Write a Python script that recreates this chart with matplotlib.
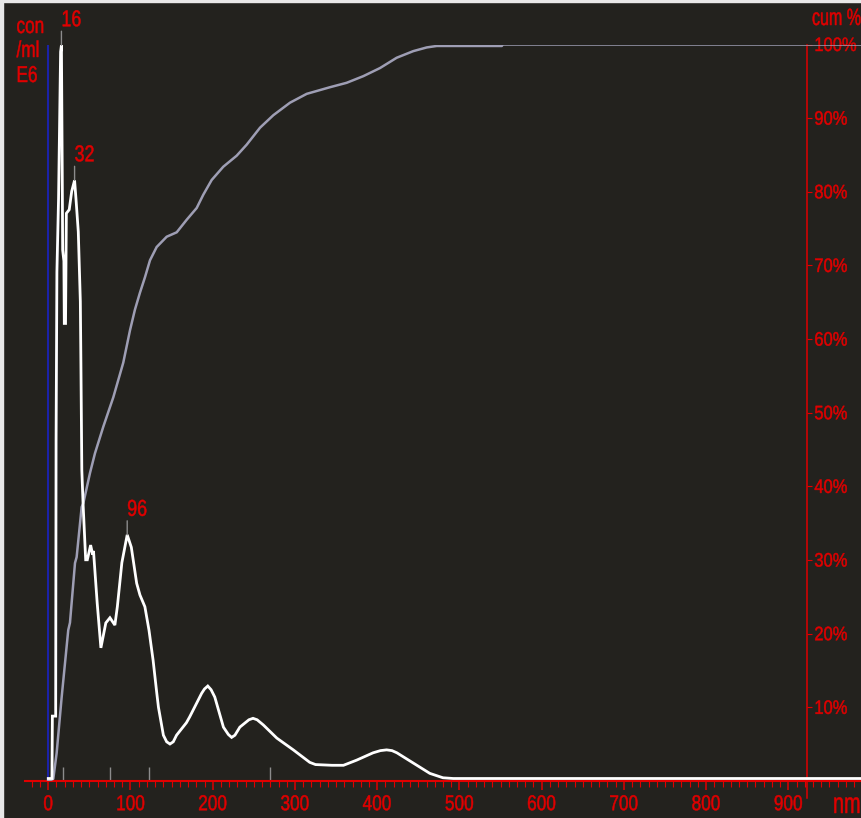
import matplotlib
matplotlib.use("Agg")
import matplotlib.pyplot as plt
import matplotlib.transforms as mtransforms
from matplotlib.transforms import Affine2D
from matplotlib.patheffects import AbstractPathEffect
from matplotlib.ticker import MultipleLocator, FixedLocator
from matplotlib.patches import Rectangle

# Particle size distribution: size (nm) vs concentration (E6 particles/ml)
size_nm = [0, 4.5, 5.0, 9.0, 9.5, 10.5, 12.5, 15.0, 16.0, 17.0, 17.5, 19.0, 19.5,
           21.0, 22.0, 25.5, 28.5, 32.0, 34.0, 36.5, 39.0, 39.7, 40.8, 42.3,
           45.5, 47.5, 51.5, 54.0, 55.0, 59.5, 64.0, 70.0, 75.0, 81.0, 84.0,
           89.5, 96.0, 101.0, 107.5, 111.5, 117.5, 122.5, 127.5, 132.0, 134.0,
           140.0, 144.0, 148.0, 152.0, 156.0, 168.0, 172.0, 186.5, 190.0,
           194.0, 198.0, 202.5, 213.0, 219.0, 223.0, 227.0, 233.0, 244.0,
           249.0, 254.0, 261.5, 278.0, 298.0, 318.0, 325.0, 345.0, 359.0,
           375.0, 395.0, 404.0, 411.5, 418.0, 424.0, 444.0, 464.0, 480.0,
           492.5, 988.0]
concentration = [0, 0, 0.85, 0.85, 4.6, 6.9, 7.9, 9.9, 9.99, 8.25, 7.2, 7.05, 6.2,
                 6.2, 7.7, 7.75, 8.0, 8.15, 7.85, 7.45, 6.5, 5.65, 4.2, 3.75,
                 2.98, 2.98, 3.18, 3.05, 3.1, 2.39, 1.78, 2.12, 2.19, 2.09, 2.34,
                 2.94, 3.32, 3.15, 2.66, 2.50, 2.34, 2.02, 1.61, 1.16, 0.97,
                 0.59, 0.50, 0.47, 0.50, 0.59, 0.76, 0.84, 1.16, 1.22,
                 1.26, 1.21, 1.11, 0.70, 0.60, 0.56, 0.59, 0.70, 0.80,
                 0.82, 0.80, 0.73, 0.55, 0.39, 0.22, 0.19, 0.18, 0.18,
                 0.25, 0.35, 0.38, 0.39, 0.38, 0.35, 0.21, 0.07, 0.01,
                 0, 0]

# Cumulative distribution (%)
cum_size_nm = [0, 6.1, 10.2, 16.3, 24.3, 26.4, 32.5, 34.5, 40.6, 42.6, 50.7,
               56.8, 66.9, 79.1, 91.2, 99.4, 105.4, 111.5, 117.6, 123.7, 131.8,
               144.0, 156.2, 168.3, 180.5, 188.5, 198.7, 212.8, 229.1, 241.3,
               257.5, 273.7, 294.0, 314.3, 342.6, 362.9, 383.1, 403.4, 423.7,
               443.9, 460.2, 472.4, 551.5, 553.0, 988.0]
cum_percent = [0, 0.3, 3.8, 11.4, 20.5, 21.5, 29.6, 30.4, 37.2, 37.7, 41.8,
               44.5, 48.1, 52.1, 56.8, 61.2, 64.0, 66.3, 68.4, 70.7, 72.5,
               73.9, 74.5, 76.2, 77.8, 79.6, 81.6, 83.4, 84.9, 86.4,
               88.7, 90.4, 92.1, 93.3, 94.2, 94.8, 95.7, 96.8, 98.2,
               99.1, 99.6, 99.8, 99.8, 100.0, 100.0]

peak_sizes = [16, 32, 96]
marker_sizes = [18, 75, 123, 270]
size_ticks = [0, 100, 200, 300, 400, 500, 600, 700, 800, 900]
percent_ticks = [10, 20, 30, 40, 50, 60, 70, 80, 90, 100]

BG = "#23221e"
RED = "#e00000"
BLUE = "#1b22a8"
CUM = "#9e9eb4"
GREY = "#8c8c8c"
FONT = ["Liberation Sans", "DejaVu Sans"]


class Squeeze(AbstractPathEffect):
    """Draw text glyphs horizontally condensed (narrow type), slightly emboldened."""

    def __init__(self, sx, anchor="left", stroke=0.35):
        super().__init__()
        self.sx = sx
        self.anchor = anchor
        self.stroke = stroke

    def draw_path(self, renderer, gc, tpath, affine, rgbFace=None):
        cx = 0.0
        if self.anchor == "center":
            ext = tpath.get_extents()
            cx = 0.5 * (ext.x0 + ext.x1)
        squeeze = Affine2D().translate(-cx, 0).scale(self.sx, 1).translate(cx, 0)
        gc0 = renderer.new_gc()
        gc0.copy_properties(gc)
        gc0.set_linewidth(self.stroke)
        if rgbFace is not None:
            gc0.set_foreground(rgbFace)
        renderer.draw_path(gc0, tpath, squeeze + affine, rgbFace)
        gc0.restore()


W, H = 861, 818
fig = plt.figure(figsize=(W / 100, H / 100), dpi=100, facecolor=BG)

# thin light frame along the top and left edges
fig.patches.append(Rectangle((0, 1 - 2 / H), 1, 2 / H, transform=fig.transFigure,
                             color="#e8e8e8", zorder=0))
fig.patches.append(Rectangle((0, 0), 3 / W, 1, transform=fig.transFigure,
                             color="#e8e8e8", zorder=0))

rect = [25 / W, (H - 781) / H, 836 / W, 736.5 / H]
ax = fig.add_axes(rect, facecolor=BG)
ax.set_xlim(-28.3, 988.4)
ax.set_ylim(0, 100)

# spines: red size axis at the bottom, red cumulative axis on the right
for side in ("top", "left"):
    ax.spines[side].set_visible(False)
ax.spines["bottom"].set_color(RED)
ax.spines["bottom"].set_linewidth(1.5)
ax.spines["right"].set_color(RED)
ax.spines["right"].set_linewidth(1.1)
ax.spines["right"].set_position(("data", 922.2))
ax.axvline(922.2, ymin=-0.023, ymax=0, color=RED, lw=1.1, clip_on=False)

ax.xaxis.set_major_locator(FixedLocator(size_ticks))
ax.xaxis.set_minor_locator(MultipleLocator(10))
ax.tick_params(axis="x", which="major", direction="out", length=6.5, width=1.1,
               color=RED, labelcolor=RED, labelsize=15.5, pad=3)
ax.tick_params(axis="x", which="minor", direction="out", length=4.3, width=0.8,
               color=RED)
ax.yaxis.set_ticks_position("right")
ax.yaxis.set_major_locator(FixedLocator(percent_ticks))
ax.set_yticklabels([f"{t}%" for t in percent_ticks])
ax.tick_params(axis="y", which="major", direction="out", length=3.6, width=0.8,
               color=RED, labelcolor=RED, labelsize=14, pad=2)
for lab in ax.get_xticklabels():
    lab.set_family(FONT)
    lab.set_path_effects([Squeeze(0.8, "center")])
for lab in ax.get_yticklabels():
    lab.set_family(FONT)
    lab.set_path_effects([Squeeze(0.85, "left")])

# blue concentration axis at 0 nm
ax.axvline(0, color=BLUE, lw=1.5, zorder=1.8)

# grey reference marks on the size axis
trans = mtransforms.blended_transform_factory(ax.transData, ax.transAxes)
ax.vlines(marker_sizes, 0, 0.019, transform=trans, color=GREY, lw=1)

# cumulative curve
ax.plot(cum_size_nm, cum_percent, color=CUM, lw=1.8, zorder=3)

# concentration curve on an overlay sharing the size axis
axc = fig.add_axes(rect, sharex=ax)
axc.patch.set_visible(False)
axc.set_ylim(-0.034, 10.0)
axc.axis("off")
axc.plot(size_nm, concentration, color="white", lw=2.0, zorder=3,
         solid_joinstyle="miter")

for p in peak_sizes:
    c = concentration[size_nm.index(p)]
    axc.annotate("", xy=(p, c), xytext=(0, 14), textcoords="offset pixels",
                 arrowprops=dict(arrowstyle="-", color=GREY, lw=1,
                                 shrinkA=0, shrinkB=0))
    axc.annotate(str(p), xy=(p, c), xytext=(0, 19), textcoords="offset pixels",
                 ha="left", va="baseline", color=RED, fontsize=16.5,
                 family=FONT, path_effects=[Squeeze(0.78, "left")])


def px_text(x, y, s, size, sx):
    fig.text(x / W, 1 - y / H, s, color=RED, family=FONT, fontsize=size,
             ha="left", va="baseline", path_effects=[Squeeze(sx, "left")])


px_text(16.5, 33, "con", 16.5, 0.75)
px_text(16.5, 57, "/ml", 16.5, 0.75)
px_text(16.5, 82, "E6", 16.5, 0.75)
px_text(812, 25, "cum %", 17, 0.68)
px_text(833, 813, "nm", 21, 0.68)

fig.savefig("out.png", dpi=100, facecolor=BG)
